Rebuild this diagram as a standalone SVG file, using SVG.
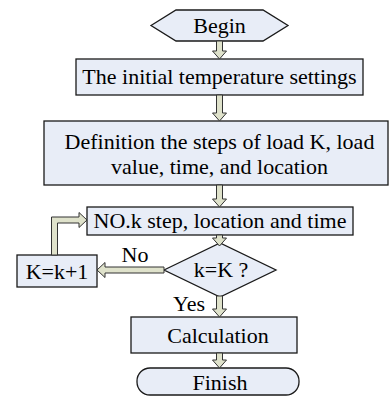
<svg xmlns="http://www.w3.org/2000/svg" width="390" height="397" viewBox="0 0 390 397">
<style>
.n{fill:#e8edf7;stroke:#1a1a1a;stroke-width:1.3}
.t{font-family:'Liberation Serif','Times New Roman',serif;font-size:22px;fill:#000;text-anchor:middle}
.a{fill:#dfe2cb;stroke:#333;stroke-width:1}
</style>
<rect width="390" height="397" fill="#fff"/>
<g id="begin">
<polygon class="n" points="151,25.5 176,10 263,10 288,25.5 263,41 176,41"/>
<text class="t" x="219.5" y="33">Begin</text>
</g>
<g id="init">
<rect class="n" x="76" y="59" width="287" height="36"/>
<text class="t" x="219.5" y="84">The initial temperature settings</text>
</g>
<g id="define">
<rect class="n" x="44" y="121" width="344" height="64"/>
<text class="t" x="219.5" y="149">Definition the steps of load K, load</text>
<text class="t" x="219.5" y="174">value, time, and location</text>
</g>
<g id="step">
<rect class="n" x="87" y="207" width="266" height="28"/>
<text class="t" x="220" y="228">NO.k step, location and time</text>
</g>
<g id="decision">
<polygon class="n" points="164,270 220,243 276,270 220,297"/>
<text class="t" x="221" y="277">k=K ?</text>
</g>
<g id="incr">
<rect class="n" x="17" y="255" width="80" height="32"/>
<text class="t" x="57" y="279">K=k+1</text>
</g>
<g id="calc">
<rect class="n" x="131" y="317" width="166" height="36"/>
<text class="t" x="218" y="343">Calculation</text>
</g>
<g id="finish">
<rect class="n" x="137" y="368" width="162" height="27" rx="13" ry="13"/>
<text class="t" x="220" y="390">Finish</text>
</g>
<g id="connectors">
<polygon class="a" points="216.5,41 222.5,41 222.5,51 226.5,51 219.5,59 212.5,51 216.5,51"/>
<polygon class="a" points="216.5,95 222.5,95 222.5,113 226.5,113 219.5,121 212.5,113 216.5,113"/>
<polygon class="a" points="216.5,185 222.5,185 222.5,199 226.5,199 219.5,207 212.5,199 216.5,199"/>
<polygon class="a" points="216.5,235 222.5,235 222.5,238 226.5,238 219.5,246 212.5,238 216.5,238"/>
<polygon class="a" points="216.5,296 222.5,296 222.5,309 226.5,309 219.5,317 212.5,309 216.5,309"/>
<polygon class="a" points="216.5,353 222.5,353 222.5,360 226.5,360 219.5,368 212.5,360 216.5,360"/>
<polygon class="a" points="164,267 105,267 105,262.5 97,270 105,277.5 105,273 164,273"/>
<polygon class="a" points="51.5,255 51.5,217 79,217 79,212.5 87,220 79,227.5 79,223 57.5,223 57.5,255"/>
<text class="t" x="135" y="262">No</text>
<text class="t" x="189" y="311">Yes</text>
</g>
</svg>
